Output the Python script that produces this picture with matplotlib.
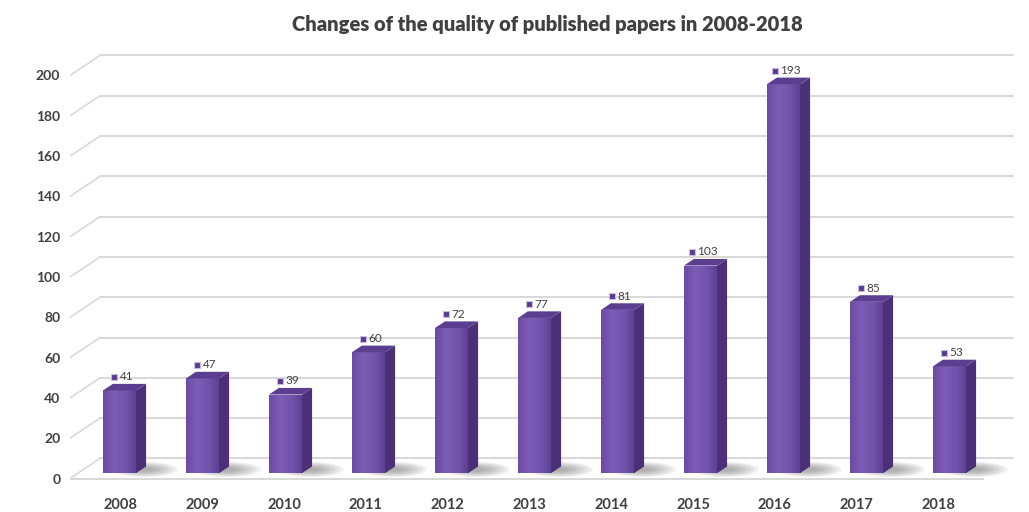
import numpy as np
import matplotlib
matplotlib.use("Agg")
import matplotlib.pyplot as plt
from matplotlib.patches import Polygon, Rectangle, Ellipse
from matplotlib.colors import LinearSegmentedColormap
import matplotlib.transforms as mtransforms

plt.rcParams['font.family'] = ['Lato', 'DejaVu Sans']

# ---- data ----
years = ['2008', '2009', '2010', '2011', '2012', '2013', '2014', '2015', '2016', '2017', '2018']
papers = [41, 47, 39, 60, 72, 77, 81, 103, 193, 85, 53]
y_ticks = [0, 20, 40, 60, 80, 100, 120, 140, 160, 180, 200]
title = 'Changes of the quality of published papers in 2008-2018'

# ---- 3D-look geometry (data units: x = category, y = value) ----
DX, DY = 0.361, 9.93        # full depth vector of the floor / walls
D0, BD = 0.27, 0.33         # bar front depth, bar thickness (fraction of depth)
W = 0.40                    # bar width (categories)
LABEL_SPREAD = 0.9855       # tick labels are spaced a bit tighter than bars

GRID = '#d9d9d9'
TEXT = '#404040'
SIDE = '#4b2f77'
TOP = '#5c3e91'
front_cmap = LinearSegmentedColormap.from_list('front', ['#6a4ba4', '#7d5db6', '#7254ab', '#5c3e92'])

fig = plt.figure(figsize=(10.29, 5.12), dpi=100)
W_PX, H_PX = 1029, 512
x_lo, x_hi = -0.5, 10.87
y_lo, y_hi = -4, 212
px_per_cat, px_per_val = 83.0, 2.015
left_px = 70
bottom_px = (H_PX - 478.5) + y_lo * px_per_val
ax = fig.add_axes([left_px / W_PX, bottom_px / H_PX,
                   (x_hi - x_lo) * px_per_cat / W_PX, (y_hi - y_lo) * px_per_val / H_PX])
ax.set_facecolor('none')
for s in ax.spines.values():
    s.set_visible(False)

n = len(papers)
x_front_l, x_front_r = -0.5, n - 0.5

# back wall gridlines + left wall diagonals
for v in y_ticks:
    ax.plot([x_front_l + DX, x_front_r + DX], [v + DY, v + DY], color=GRID, lw=1.5, zorder=1,
            solid_capstyle='round')
    ax.plot([x_front_l, x_front_l + DX], [v, v + DY], color=GRID, lw=1.2, zorder=1)
# front floor edge
ax.plot([x_front_l, x_front_r], [0, 0], color=GRID, lw=1.5, zorder=1)

for i, v in enumerate(papers):
    xl = i - W / 2 + D0 * DX
    xr = i + W / 2 + D0 * DX
    yb = D0 * DY
    yt = v + D0 * DY
    ox, oy = BD * DX, BD * DY
    # floor shadow
    for k in range(7):
        ax.add_patch(Ellipse((xr + 0.1, yb + 1.8), 0.8 - k * 0.1, 7.5 - k * 0.9,
                             facecolor='#606060', edgecolor='none', alpha=0.09, zorder=2))
    # front face with gradient
    rect = Rectangle((xl, yb), xr - xl, yt - yb, facecolor='none', edgecolor='none', zorder=3)
    ax.add_patch(rect)
    grad = np.linspace(0, 1, 64).reshape(1, -1)
    im = ax.imshow(grad, extent=[xl, xr, yb, yt], aspect='auto', cmap=front_cmap,
                   origin='lower', zorder=3, interpolation='bicubic')
    im.set_clip_path(rect)
    # side face
    ax.add_patch(Polygon([[xr, yb], [xr + ox, yb + oy], [xr + ox, yt + oy], [xr, yt]],
                         closed=True, facecolor=SIDE, edgecolor='none', zorder=3))
    # top face
    ax.add_patch(Polygon([[xl, yt], [xr, yt], [xr + ox, yt + oy], [xl + ox, yt + oy]],
                         closed=True, facecolor=TOP, edgecolor='none', zorder=3))
    # value label (marker square + number)
    ax_c = (xl + xr) / 2 + ox / 2
    ay = yt + oy
    nd = len(str(v))
    ax.plot([ax_c], [ay], marker='s', markersize=5.0, mfc='#5a3a8e', mec='#c8bce0', mew=0.8,
            transform=ax.transData + mtransforms.ScaledTranslation(
                (-5 - 3 * nd) / 100, 7 / 100, fig.dpi_scale_trans), zorder=5)
    ax.annotate(str(v), xy=(ax_c, ay), xytext=(-5 - 3 * nd + 6, 7), textcoords='offset pixels',
                ha='left', va='center', fontsize=8.5, color=TEXT, zorder=5)

ax.set_xlim(x_lo, x_hi)
ax.set_ylim(y_lo, y_hi)

ax.set_yticks(y_ticks)
ax.set_yticklabels([str(t) for t in y_ticks], fontsize=10, fontweight='bold', color=TEXT)
tick_x = [i * LABEL_SPREAD + D0 * DX + 0.01 for i in range(n)]
ax.set_xticks(tick_x)
ax.set_xticklabels(years, fontsize=10.5, fontweight='bold', color=TEXT)
ax.tick_params(axis='both', length=0)
ax.tick_params(axis='y', pad=7)
ax.tick_params(axis='x', pad=8)

fig.text(547 / W_PX, 1 - 25 / H_PX, title, ha='center', va='center',
         fontsize=14.5, fontweight='heavy', color=TEXT)

fig.savefig('out.png', dpi=100, facecolor='white')
